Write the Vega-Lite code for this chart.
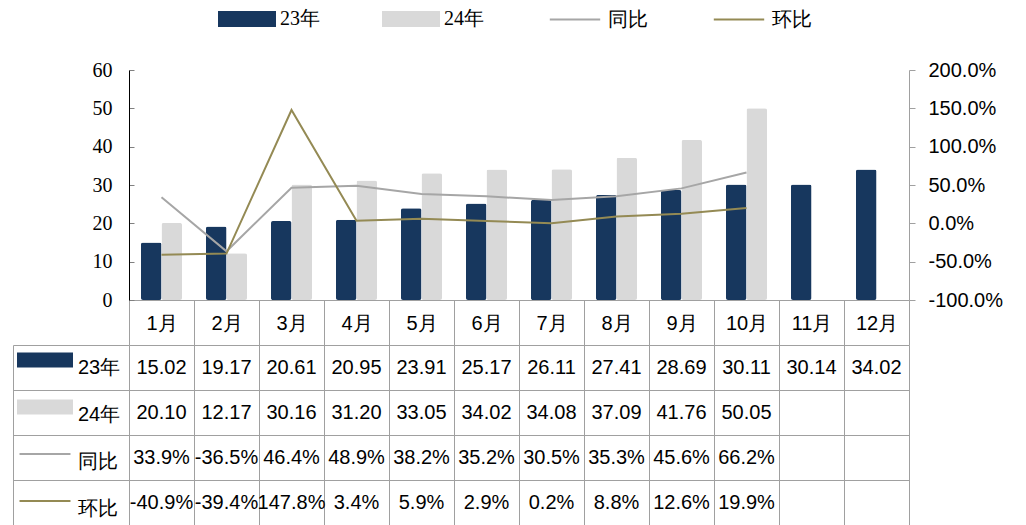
{
  "$schema": "https://vega.github.io/schema/vega-lite/v6.json",
  "padding": {"left": 12, "top": 4, "right": 18, "bottom": 0},
  "bounds": "flush",
  "spacing": 45,
  "config": {
    "font": "Liberation Sans",
    "view": {"stroke": null},
    "locale": {"number": {"decimal": ".", "thousands": ",", "grouping": [3], "currency": ["", ""], "minus": "-"}}
  },
  "datasets": {
    "sales": [
      {"month": "1月", "23年": 15.02, "24年": 20.10, "同比": 0.339, "环比": -0.409},
      {"month": "2月", "23年": 19.17, "24年": 12.17, "同比": -0.365, "环比": -0.394},
      {"month": "3月", "23年": 20.61, "24年": 30.16, "同比": 0.464, "环比": 1.478},
      {"month": "4月", "23年": 20.95, "24年": 31.20, "同比": 0.489, "环比": 0.034},
      {"month": "5月", "23年": 23.91, "24年": 33.05, "同比": 0.382, "环比": 0.059},
      {"month": "6月", "23年": 25.17, "24年": 34.02, "同比": 0.352, "环比": 0.029},
      {"month": "7月", "23年": 26.11, "24年": 34.08, "同比": 0.305, "环比": 0.002},
      {"month": "8月", "23年": 27.41, "24年": 37.09, "同比": 0.353, "环比": 0.088},
      {"month": "9月", "23年": 28.69, "24年": 41.76, "同比": 0.456, "环比": 0.126},
      {"month": "10月", "23年": 30.11, "24年": 50.05, "同比": 0.662, "环比": 0.199},
      {"month": "11月", "23年": 30.14, "24年": null, "同比": null, "环比": null},
      {"month": "12月", "23年": 34.02, "24年": null, "同比": null, "环比": null}
    ]
  },
  "resolve": {
    "scale": {"x": "independent", "y": "independent", "color": "independent"},
    "legend": {"color": "independent"}
  },
  "vconcat": [
    {
      "width": 780,
      "height": 230,
      "layer": [
        {
          "data": {"name": "sales"},
          "transform": [
            {"fold": ["23年", "24年"], "as": ["series", "value"]},
            {"filter": "datum.value != null"}
          ],
          "mark": {"type": "bar", "cornerRadius": 2},
          "encoding": {
            "x": {
              "field": "month", "type": "nominal", "sort": null,
              "scale": {"type": "band", "domain": ["1月","2月","3月","4月","5月","6月","7月","8月","9月","10月","11月","12月"], "paddingInner": 0, "paddingOuter": 0},
              "axis": {"title": null, "orient": "bottom", "tickBand": "extent", "tickSize": 45, "tickColor": "#A0A0A0", "domainColor": "#A0A0A0", "labelAngle": 0, "labelBaseline": "middle", "labelPadding": -22, "labelFont": "Liberation Sans", "labelFontSize": 20, "labelColor": "#000000", "labelOverlap": false}
            },
            "xOffset": {"field": "series", "type": "nominal", "scale": {"domain": ["23年", "24年"], "paddingInner": 0, "paddingOuter": 0.585}},
            "y": {
              "field": "value", "type": "quantitative",
              "scale": {"domain": [0, 60], "nice": false},
              "axis": {"title": null, "orient": "left", "values": [0, 10, 20, 30, 40, 50, 60], "grid": false, "domainColor": "#000000", "tickColor": "#808080", "tickSize": -5, "labelPadding": 22, "labelFont": "Liberation Serif", "labelFontSize": 20, "labelColor": "#000000"}
            },
            "color": {
              "field": "series", "type": "nominal",
              "scale": {"domain": ["23年", "24年", "同比", "环比"], "range": ["#17375E", "#D9D9D9", "#A6A6A6", "#948A54"]},
              "legend": {
                "title": null, "orient": "none", "legendX": 103, "legendY": -66, "direction": "horizontal", "gridAlign": "all", "columnPadding": 59,
                "symbolSize": 784, "labelFont": "Liberation Serif", "labelFontSize": 20, "labelColor": "#000000", "labelOffset": 18,
                "encode": {
                  "symbols": {"update": {
                    "shape": {"signal": "indexof(['同比','环比'], datum.value) >= 0 ? 'M-1.8,0H1.8' : 'M-2,-0.5H2V0.5H-2Z'"},
                    "stroke": {"signal": "datum.value === '同比' ? '#A6A6A6' : datum.value === '环比' ? '#948A54' : 'transparent'"},
                    "strokeWidth": {"value": 2},
                    "opacity": {"value": 1}
                  }}
                }
              }
            }
          }
        },
        {
          "data": {"name": "sales"},
          "transform": [
            {"fold": ["同比", "环比"], "as": ["series", "value"]},
            {"filter": "datum.value != null"}
          ],
          "mark": {"type": "line", "strokeWidth": 2},
          "encoding": {
            "x": {"field": "month", "type": "nominal", "sort": null},
            "y": {
              "field": "value", "type": "quantitative",
              "scale": {"domain": [-1, 2], "nice": false},
              "axis": {"title": null, "orient": "right", "values": [-1, -0.5, 0, 0.5, 1, 1.5, 2], "format": ".1%", "grid": false, "domainColor": "#A0A0A0", "tickColor": "#A0A0A0", "tickSize": 6, "labelPadding": 13, "labelFont": "Liberation Sans", "labelFontSize": 20, "labelColor": "#000000"}
            },
            "color": {"field": "series", "type": "nominal"}
          }
        }
      ],
      "resolve": {"scale": {"y": "independent"}}
    },
    {
      "width": 780,
      "height": 180,
      "layer": [
        {
          "data": {"name": "sales"},
          "transform": [
            {"fold": ["23年", "24年"], "as": ["series", "value"]},
            {"filter": "datum.value != null"}
          ],
          "mark": {"type": "text", "font": "Liberation Sans", "fontSize": 20, "baseline": "middle", "color": "#000000"},
          "encoding": {
            "x": {
              "field": "month", "type": "nominal", "sort": null,
              "scale": {"type": "band", "domain": ["1月","2月","3月","4月","5月","6月","7月","8月","9月","10月","11月","12月"], "paddingInner": 0, "paddingOuter": 0},
              "axis": {"title": null, "orient": "top", "grid": true, "gridColor": "#A0A0A0", "tickBand": "extent", "ticks": false, "labels": false, "domain": false}
            },
            "y": {
              "field": "series", "type": "nominal", "sort": null,
              "scale": {"type": "band", "domain": ["23年", "24年", "同比", "环比"], "paddingInner": 0, "paddingOuter": 0},
              "axis": {"title": null, "orient": "left", "grid": true, "gridColor": "#A0A0A0", "tickBand": "extent", "ticks": true, "tickSize": -116, "tickColor": "#A0A0A0", "offset": 116, "labels": false, "domain": true, "domainColor": "#A0A0A0"}
            },
            "text": {"field": "value", "type": "quantitative", "format": ".2f"}
          }
        },
        {
          "data": {"name": "sales"},
          "transform": [
            {"fold": ["同比", "环比"], "as": ["series", "value"]},
            {"filter": "datum.value != null"}
          ],
          "mark": {"type": "text", "font": "Liberation Sans", "fontSize": 20, "baseline": "middle", "color": "#000000"},
          "encoding": {
            "x": {"field": "month", "type": "nominal", "sort": null},
            "y": {"field": "series", "type": "nominal", "sort": null},
            "text": {"field": "value", "type": "quantitative", "format": ".1%"}
          }
        },
        {
          "data": {"name": "sales"},
          "transform": [
            {"fold": ["23年", "24年", "同比", "环比"], "as": ["series", "value"]},
            {"filter": "datum.value != null"}
          ],
          "mark": {"type": "text", "fontSize": 20},
          "encoding": {
            "x": {"field": "month", "type": "nominal", "sort": null},
            "y": {"field": "series", "type": "nominal", "sort": null},
            "text": {"value": ""},
            "color": {
              "field": "series", "type": "nominal",
              "scale": {"domain": ["23年", "24年", "同比", "环比"], "range": ["#17375E", "#D9D9D9", "#A6A6A6", "#948A54"]},
              "legend": {
                "title": null, "orient": "none", "legendX": -113, "legendY": -14, "direction": "vertical", "gridAlign": "all", "rowPadding": -1,
                "symbolSize": 3136, "labelFont": "Liberation Sans", "labelFontSize": 20, "labelColor": "#000000", "labelOffset": 4, "labelBaseline": "middle",
                "encode": {
                  "symbols": {"update": {
                    "shape": {"signal": "indexof(['同比','环比'], datum.value) >= 0 ? 'M-0.91,0H0.91' : 'M-1,-0.27H1V0.27H-1Z'"},
                    "stroke": {"signal": "datum.value === '同比' ? '#A6A6A6' : datum.value === '环比' ? '#948A54' : 'transparent'"},
                    "strokeWidth": {"value": 2},
                    "opacity": {"value": 1}
                  }},
                  "labels": {"update": {"dy": {"value": 8}}}
                }
              }
            }
          }
        }
      ]
    }
  ]
}
